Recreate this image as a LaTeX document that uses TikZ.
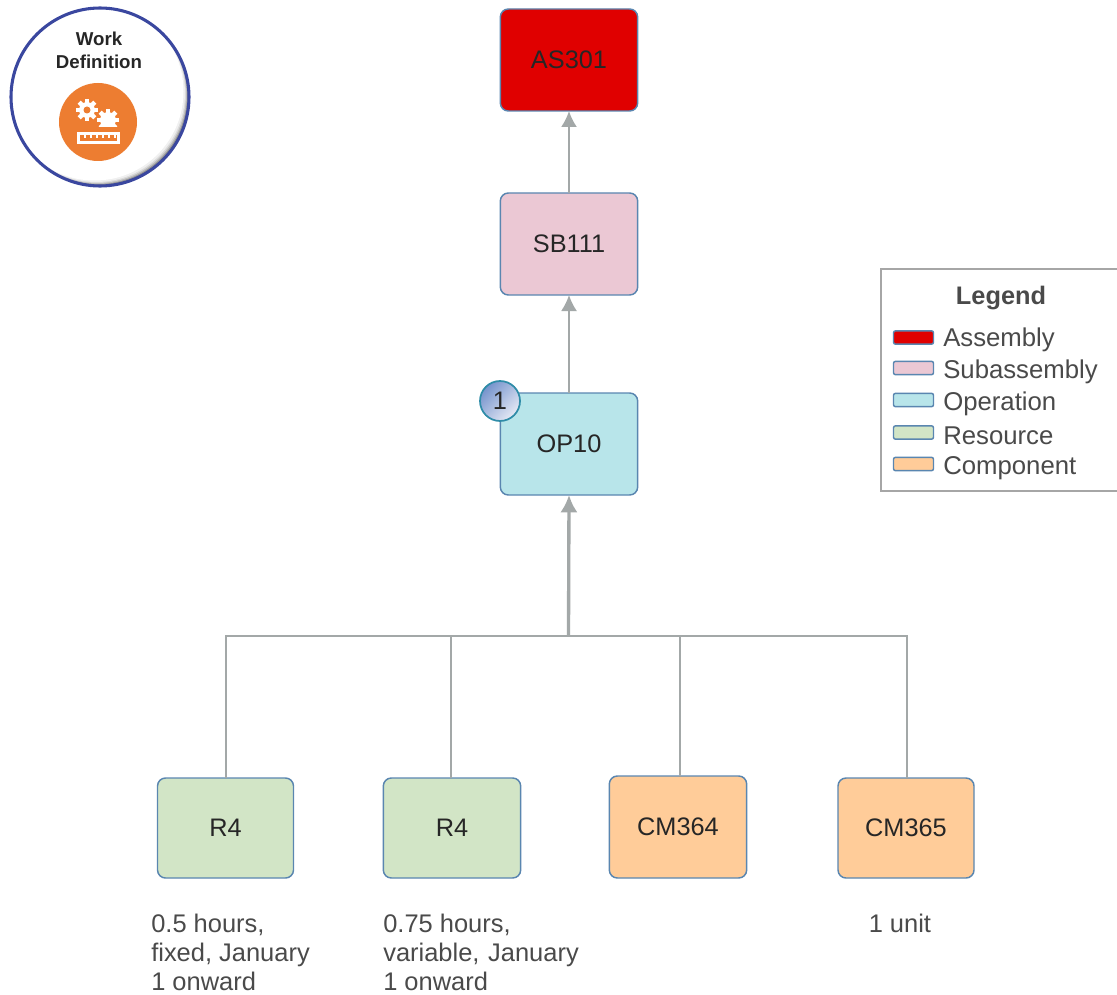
\documentclass[tikz,border=0pt]{standalone}
\usepackage{fontspec}
\setmainfont{Liberation Sans}
\usetikzlibrary{arrows.meta,calc}
\definecolor{asm}{HTML}{E00000}
\definecolor{sub}{HTML}{EBC8D4}
\definecolor{opn}{HTML}{B8E5EA}
\definecolor{res}{HTML}{D2E5C6}
\definecolor{cmp}{HTML}{FFCC99}
\definecolor{edge}{HTML}{5A86B0}
\definecolor{link}{HTML}{A3A8A8}
\definecolor{txt}{HTML}{4A4A4A}
\definecolor{ring}{HTML}{3A479F}
\definecolor{icon}{HTML}{ED7D31}
\definecolor{balldark}{HTML}{7593CC}
\definecolor{balllight}{HTML}{E6EAF5}
\definecolor{ballrim}{HTML}{2F8CA8}
\tikzset{
  box/.style={draw=edge,line width=1.1pt,rounded corners=6pt,minimum width=103pt,minimum height=76.5pt,inner sep=0pt,outer sep=0pt,font=\fontsize{19}{23}\selectfont,text=black!85},
  swatch/.style={draw=edge,line width=1.1pt,rounded corners=1.5pt,minimum width=30pt,minimum height=10pt,inner sep=0pt},
  legendtext/.style={anchor=west,inner sep=0pt,text=txt,font=\fontsize{19.3}{23}\selectfont},
  note/.style={anchor=north west,inner sep=0pt,align=left,text=txt,font=\fontsize{19.1}{21.75}\selectfont},
  link/.style={draw=link,line width=1.5pt},
  linkarrow/.style={link,-{Latex[length=12pt,width=12pt]}}
}
\newcommand{\gearshape}[3]{% x, y, radius
  \foreach \a in {0,45,...,315}{
    \fill[white,rotate around={\a:(#1,#2)}] ($(#1,#2)+(-0.2*#3,0)$) rectangle ($(#1,#2)+(0.2*#3,-#3)$);
  }
  \fill[white] (#1,#2) circle[radius=0.72*#3];
}
\begin{document}
\begin{tikzpicture}[x=0.75pt,y=-0.75pt]
\useasboundingbox (0,0) rectangle (1117,995);
\clip (0,0) rectangle (1117,995);
% badge
\begin{scope}
  \clip (100,97) circle[radius=89];
  \fill[black!60] (100,97) circle[radius=89];
  \fill[black!42] (99,96) circle[radius=89];
  \fill[black!26] (98,95) circle[radius=89];
  \fill[black!14] (97,94) circle[radius=89];
  \fill[black!6] (96,93) circle[radius=89];
  \fill[white] (94.5,91.5) circle[radius=89];
\end{scope}
\draw[ring,line width=2.3pt] (100,97) circle[radius=89];
\node[inner sep=0pt,font=\bfseries\fontsize{14}{17}\selectfont,text=black!85] (wd1) at (99,39) {Work};
\node[inner sep=0pt,font=\bfseries\fontsize{14}{17}\selectfont,text=black!85] (wd2) at (99,62) {Definition};
\fill[icon] (98,122) circle[radius=39];
\gearshape{87}{110}{11}
\fill[icon] (87,110) circle[radius=3.5];
\begin{scope}
  \clip (90,100) rectangle (125,127);
  \gearshape{108}{120}{11}
\end{scope}
\fill[white] (77,132) rectangle (120,144);
\fill[icon] (80,135) rectangle (117,141);
\foreach \t in {84,90,...,114}{\fill[white] (\t,134) rectangle (\t+2,138);}
% main boxes
\node[box,fill=asm,minimum height=76.5pt] (as) at (569,60) {AS301};
\node[box,fill=sub] (sb) at (569,244) {SB111};
\node[box,fill=opn] (op) at (569,444) {OP10};
\node[box,fill=res,minimum width=102pt,minimum height=75pt] (r1) at (225.5,828) {R4};
\node[box,fill=res,minimum height=75pt] (r2) at (452,828) {R4};
\node[box,fill=cmp,minimum height=76.5pt] (c1) at (678,827) {CM364};
\node[box,fill=cmp,minimum width=102pt,minimum height=75pt] (c2) at (906,828) {CM365};
% connectors
\coordinate (bus) at (568.5,636);
\draw[linkarrow] (sb.north) -- (as.south);
\draw[linkarrow] (op.north) -- (sb.south);
\draw[link] (r1.north) |- (bus);
\draw[link] ($(r2.north)+(-1,0)$) |- (bus);
\draw[link] ($(c1.north)+(2,0)$) |- (bus);
\draw[link,line width=1.9pt] ($(c2.north)+(1,0)$) |- (bus);
\draw[link,line width=2.5pt,-{Latex[length=13pt,width=13pt]}] (bus) -- (op.south);
% number badge
\shade[top color=balldark,bottom color=balllight,shading angle=45,draw=ballrim,line width=1.3pt] (500,401) circle[radius=20];
\node[inner sep=0pt,text=black!85,font=\fontsize{19}{23}\selectfont] (num) at (500,401) {1};
% notes
\node[note] (n1) at (151,914) {0.5 hours,\\fixed, January\\1 onward};
\node[note] (n2) at (383,914) {0.75 hours,\\variable,\hspace{6.5pt}January\\1 onward};
\node[note] (n3) at (868.5,914) {1 unit};
% legend
\draw[draw=black!35,line width=1.1pt,fill=white] (881,269) rectangle (1130,491);
\node[inner sep=0pt,text=txt,font=\bfseries\fontsize{19}{23}\selectfont] (lt) at (1001,298) {Legend};
\node[swatch,fill=asm] (s1) at (913.5,337.5) {};
\node[swatch,fill=sub] (s2) at (913.5,368) {};
\node[swatch,fill=opn] (s3) at (913.5,400) {};
\node[swatch,fill=res] (s4) at (913.5,432.5) {};
\node[swatch,fill=cmp] (s5) at (913.5,464) {};
\node[legendtext] (l1) at (943,340) {Assembly};
\node[legendtext] (l2) at (943,372) {Subassembly};
\node[legendtext] (l3) at (943,404) {Operation};
\node[legendtext] (l4) at (943,436) {Resource};
\node[legendtext] (l5) at (943,468) {Component};
\end{tikzpicture}
\end{document}
